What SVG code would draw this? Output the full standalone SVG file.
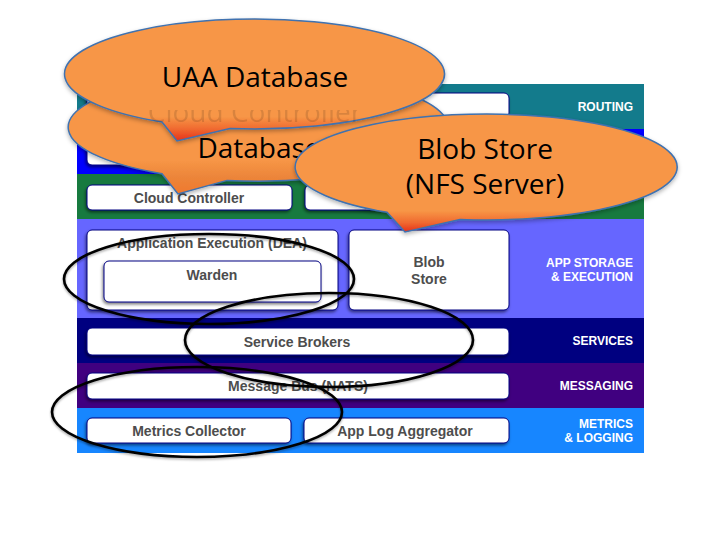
<svg xmlns="http://www.w3.org/2000/svg" width="720" height="540" viewBox="0 0 720 540">
<defs>
<style>
.box{fill:#fff;stroke:#000080;stroke-width:1;filter:url(#bshadow)}
.bt{font-family:"Liberation Sans",Arial,sans-serif;font-weight:bold;font-size:14px;fill:#4D4D4D;text-anchor:middle}
.lbl{font-family:"Liberation Sans",Arial,sans-serif;font-weight:bold;font-size:12px;fill:#fff;text-anchor:end}
.ring{fill:none;stroke:#000;stroke-width:2.6;filter:url(#rshadow)}
.bal{stroke:#3F72B0;stroke-width:1.5;filter:url(#balshadow)}
.bal-t{font-family:"Open Sans","Noto Sans",sans-serif;font-size:28px;fill:#000;text-anchor:middle}
</style>
<filter id="bshadow" x="-10%" y="-30%" width="120%" height="170%">
<feDropShadow dx="-1" dy="2" stdDeviation="1.5" flood-color="#000" flood-opacity="0.5"/>
</filter>
<filter id="rshadow" x="-10%" y="-20%" width="120%" height="150%">
<feDropShadow dx="0" dy="1.5" stdDeviation="1.2" flood-color="#000" flood-opacity="0.35"/>
</filter>
<filter id="balshadow" x="-10%" y="-10%" width="120%" height="130%">
<feDropShadow dx="0" dy="2" stdDeviation="2" flood-color="#000" flood-opacity="0.3"/>
</filter>
<clipPath id="ghostclip"><rect x="60" y="110" width="400" height="30"/></clipPath>
<linearGradient id="gU" x1="0" y1="0" x2="0" y2="1">
<stop offset="0" stop-color="#F79646"/>
<stop offset="0.8" stop-color="#F79646"/>
<stop offset="0.9" stop-color="#F06A30"/>
<stop offset="1" stop-color="#E5301A"/>
</linearGradient>
<linearGradient id="gC" x1="0" y1="0" x2="0" y2="1">
<stop offset="0" stop-color="#F79646"/>
<stop offset="0.72" stop-color="#F79646"/>
<stop offset="0.86" stop-color="#EC853A"/>
<stop offset="1" stop-color="#F0782E"/>
</linearGradient>
<linearGradient id="gB" x1="0" y1="0" x2="0" y2="1">
<stop offset="0" stop-color="#F79646"/>
<stop offset="0.82" stop-color="#F79646"/>
<stop offset="0.92" stop-color="#F06A30"/>
<stop offset="1" stop-color="#E5301A"/>
</linearGradient>
</defs>
<rect width="720" height="540" fill="#fff"/>

<g id="bands">
<rect x="77" y="84" width="567" height="45" fill="#137B8C"/>
<rect x="77" y="129" width="567" height="45" fill="#0000FF"/>
<rect x="77" y="174" width="567" height="45" fill="#177A3F"/>
<rect x="77" y="219" width="567" height="99" fill="#6666FF"/>
<rect x="77" y="318" width="567" height="45" fill="#000080"/>
<rect x="77" y="363" width="567" height="45" fill="#400080"/>
<rect x="77" y="408" width="567" height="45" fill="#1786FF"/>
<text class="lbl" x="633" y="111">ROUTING</text>
<text class="lbl" x="633" y="267">APP STORAGE</text>
<text class="lbl" x="633" y="281">&amp; EXECUTION</text>
<text class="lbl" x="633" y="345">SERVICES</text>
<text class="lbl" x="633" y="390">MESSAGING</text>
<text class="lbl" x="633" y="428">METRICS</text>
<text class="lbl" x="633" y="442">&amp; LOGGING</text>
</g>

<g id="router"><rect class="box" x="87" y="93" width="422" height="25" rx="5"/></g>
<g id="auth"><rect class="box" x="87" y="139" width="422" height="26" rx="5"/></g>
<g id="cloud-controller"><rect class="box" x="87" y="185" width="205" height="25" rx="5"/><text class="bt" x="189" y="203">Cloud Controller</text></g>
<g id="health-manager"><rect class="box" x="305" y="185" width="204" height="25" rx="5"/></g>
<g id="dea"><rect class="box" x="87" y="230" width="251" height="80" rx="5"/><text class="bt" x="212" y="248">Application Execution (DEA)</text></g>
<g id="warden"><rect class="box" x="104" y="261" width="217" height="41" rx="5"/><text class="bt" x="212" y="280">Warden</text></g>
<g id="blob-store"><rect class="box" x="349" y="230" width="160" height="80" rx="5"/><text class="bt" x="429" y="267">Blob</text><text class="bt" x="429" y="284">Store</text></g>
<g id="service-brokers"><rect class="box" x="87" y="328" width="422" height="27" rx="5"/><text class="bt" x="297" y="347">Service Brokers</text></g>
<g id="message-bus"><rect class="box" x="87" y="373" width="422" height="26" rx="5"/><text class="bt" x="298" y="391">Message Bus (NATS)</text></g>
<g id="metrics-collector"><rect class="box" x="87" y="418" width="204" height="25" rx="5"/><text class="bt" x="189" y="436">Metrics Collector</text></g>
<g id="app-log-aggregator"><rect class="box" x="304" y="418" width="205" height="25" rx="5"/><text class="bt" x="405" y="436">App Log Aggregator</text></g>

<g id="connectors">
<ellipse class="ring" cx="209" cy="279" rx="145" ry="45"/>
<ellipse class="ring" cx="329" cy="340" rx="144" ry="47"/>
<ellipse class="ring" cx="197" cy="412" rx="145" ry="45"/>
</g>

<g id="cc-database">
<path class="bal" fill="url(#gC)" d="M162,173.7 A190,54 0 1 1 227,180.4 L178,194 Z"/>
<text class="bal-t" x="259" y="158">Database</text>
</g>
<g id="uaa-database">
<path class="bal" fill="url(#gU)" d="M162,122 A190,55 0 1 1 230,128.5 L177,141 Z"/>
<text class="bal-t" x="255" y="87">UAA Database</text>
<text class="bal-t" x="255" y="122" fill="#D2691E" opacity="0.12" clip-path="url(#ghostclip)">Cloud Controller</text>
</g>
<g id="blob-store-nfs">
<path class="bal" fill="url(#gB)" d="M387,212.3 A191,53 0 1 1 460,219.5 L405,232 Z"/>
<text class="bal-t" x="485" y="159">Blob Store</text>
<text class="bal-t" x="485" y="194">(NFS Server)</text>
</g>
</svg>
